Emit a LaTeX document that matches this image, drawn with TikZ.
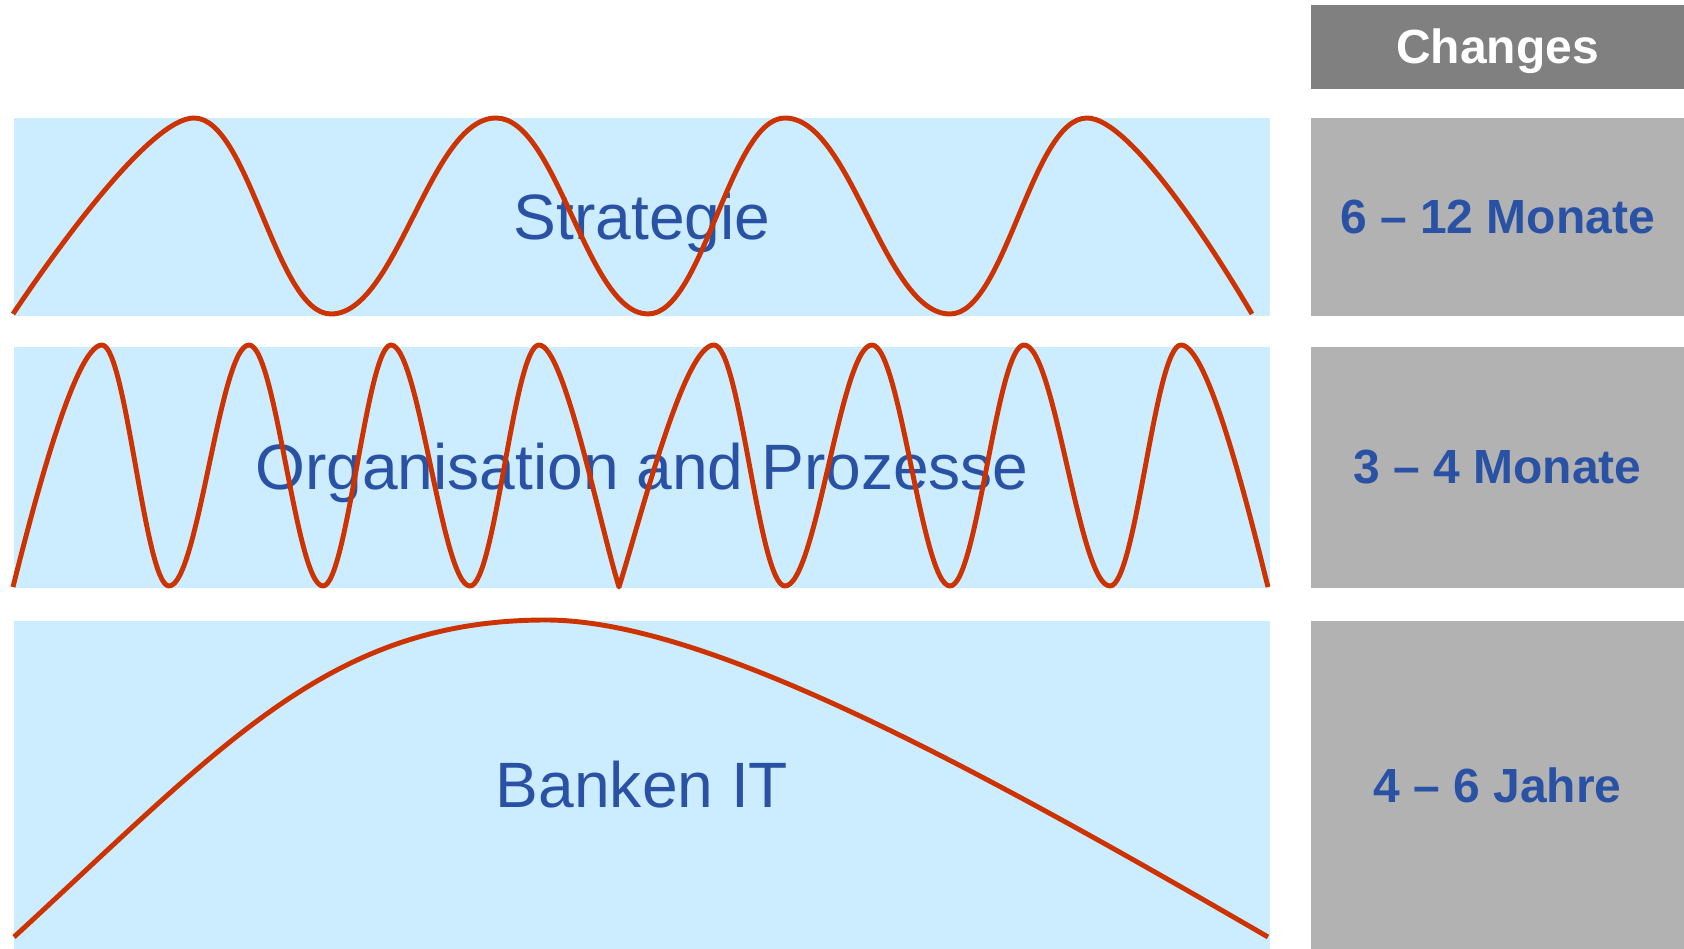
\documentclass[tikz,border=0pt]{standalone}
\usepackage{fontspec}
\setmainfont{Liberation Sans}
\usetikzlibrary{positioning}
\definecolor{bandblue}{HTML}{CCECFF}
\definecolor{labelblue}{HTML}{2A52A4}
\definecolor{wavered}{HTML}{CC3300}
\definecolor{spangray}{HTML}{B2B2B2}
\definecolor{headgray}{HTML}{808080}
\tikzset{
  band/.style={rectangle, fill=bandblue, inner sep=0pt, minimum width=25.12cm,
    text=labelblue, font=\fontsize{36.5}{40}\selectfont, text height=25.1pt, text depth=0pt},
  spanbox/.style={rectangle, fill=spangray, inner sep=0pt, minimum width=7.48cm,
    text=labelblue, font=\fontsize{27.3}{30}\selectfont\bfseries, text height=18.8pt, text depth=0pt},
  headbox/.style={spanbox, fill=headgray, text=white},
  wave/.style={draw=wavered, line width=2.8pt, line join=round},
}
\begin{document}
\begin{tikzpicture}[x=0.02cm, y=-0.02cm]
  \useasboundingbox (0,0) rectangle (1684,949);
  % bands
  \node[band, minimum height=3.96cm] (strat) at (642,217) {Strategie};
  \node[band, minimum height=4.82cm, below=0.6cm of strat] (orga) {Organisation and Prozesse};
  \node[band, minimum height=6.58cm, below=0.66cm of orga] (bankit) {Banken IT};
  % change periods
  \node[spanbox, minimum height=3.96cm, right=0.8cm of strat] (stratspan) {6 – 12 Monate};
  \node[spanbox, minimum height=4.82cm, right=0.8cm of orga] (orgaspan) {3 – 4 Monate};
  \node[spanbox, minimum height=6.58cm, right=0.8cm of bankit] (bankitspan) {4 – 6 Jahre};
  \node[headbox, minimum height=1.68cm, above=0.56cm of stratspan] (head) {Changes};
  % strategy wave
  \draw[wave] (13,314) .. controls (53,254) and (150,118) .. (194,118)
    .. controls +(55,0) and +(-55,0) .. (331,314)
    .. controls +(66,0) and +(-66,0) .. (496,118)
    .. controls +(61,0) and +(-61,0) .. (648,314)
    .. controls +(55,0) and +(-55,0) .. (785,118)
    .. controls +(66,0) and +(-66,0) .. (950,314)
    .. controls +(55,0) and +(-55,0) .. (1087,118)
    .. controls +(45,0) and +(-30,-51) .. (1252,314);
  % organisation wave
  \draw[wave] (13,587) .. controls (33,507) and (75,345) .. (102,345)
    .. controls +(24,0) and +(-24,0) .. (169,586)
    .. controls +(29,0) and +(-29,0) .. (249,345)
    .. controls +(27,0) and +(-27,0) .. (323,586)
    .. controls +(24,0) and +(-24,0) .. (391,345)
    .. controls +(28,0) and +(-28,0) .. (470,586)
    .. controls +(25,0) and +(-25,0) .. (539,345)
    .. controls +(25,0) and +(-20,-65) .. (619,587)
    .. controls +(22,-70) and +(-30,0) .. (714,345)
    .. controls +(26,0) and +(-26,0) .. (785,586)
    .. controls +(31,0) and +(-31,0) .. (872,345)
    .. controls +(28,0) and +(-28,0) .. (950,586)
    .. controls +(27,0) and +(-27,0) .. (1024,345)
    .. controls +(31,0) and +(-31,0) .. (1110,586)
    .. controls +(26,0) and +(-26,0) .. (1181,345)
    .. controls +(27,0) and +(-20,-80) .. (1268,587);
  % IT wave
  \draw[wave] (14,937) .. controls (224,744) and (330,620) .. (546,620)
    .. controls (705,620) and (968,763) .. (1268,937);
\end{tikzpicture}
\end{document}
